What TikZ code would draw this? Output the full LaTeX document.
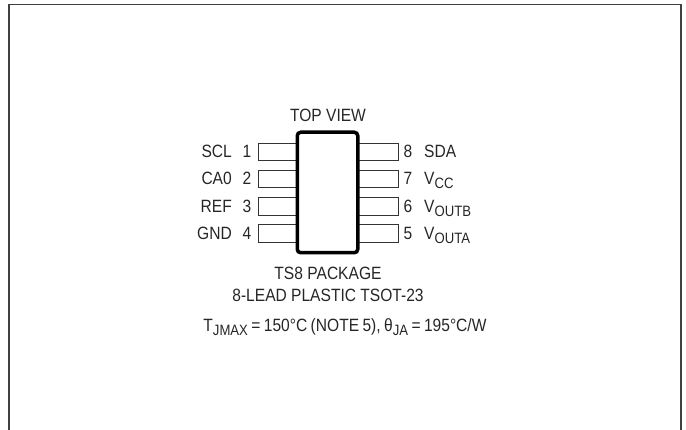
\documentclass[tikz,border=0pt]{standalone}
\usepackage{fontspec}
\setmainfont[FakeStretch=0.875]{Liberation Sans}
\newcommand{\lowsub}[1]{\raisebox{-3.6pt}{\fontsize{15}{18}\selectfont #1}}
\begin{document}
\begin{tikzpicture}[x=1pt,y=-1pt,
  lbl/.style={inner sep=0pt,font=\fontsize{17.8}{21}\selectfont,text=black!85},
  pinbox/.style={draw=black!80,line width=1pt,inner sep=0pt,minimum width=40pt,minimum height=17.5pt,fill=white},
  chip/.style={draw=black,line width=3.5pt,rounded corners=3.5pt,inner sep=0pt,minimum width=60.5pt,minimum height=120.5pt,fill=white},
  frame/.style={draw=black!75,line width=1.2pt}]
\useasboundingbox (0,0) rectangle (686,430);
\coordinate (fa) at (9,430);
\coordinate (fb) at (9,4.5);
\coordinate (fc) at (681,4.5);
\coordinate (fd) at (681,430);
\draw[frame] (fa) -- (fb) -- (fc) -- (fd);
\node[pinbox] (p1) at (278,152) {};
\node[pinbox] (p2) at (278,179) {};
\node[pinbox] (p3) at (278,206.3) {};
\node[pinbox] (p4) at (278,233.5) {};
\node[pinbox] (p8) at (378,152) {};
\node[pinbox] (p7) at (378,179) {};
\node[pinbox] (p6) at (378,206.3) {};
\node[pinbox] (p5) at (378,233.5) {};
\node[chip] (body) at (327.5,192.5) {};
\node[lbl,anchor=base] (top) at (328,122) {TOP VIEW};
\node[lbl,anchor=base east] (n1) at (251.5,158) {1};
\node[lbl,anchor=base east] (n2) at (251.5,185) {2};
\node[lbl,anchor=base east] (n3) at (251.5,212.5) {3};
\node[lbl,anchor=base east] (n4) at (251.5,240) {4};
\node[lbl,anchor=base east] (s1) at (232,158) {SCL};
\node[lbl,anchor=base east] (s2) at (232,185) {CA0};
\node[lbl,anchor=base east] (s3) at (232,212.5) {REF};
\node[lbl,anchor=base east] (s4) at (232,240) {GND};
\node[lbl,anchor=base west] (n8) at (403.5,158) {8};
\node[lbl,anchor=base west] (n7) at (403.5,185) {7};
\node[lbl,anchor=base west] (n6) at (403.5,212.5) {6};
\node[lbl,anchor=base west] (n5) at (403.5,240) {5};
\node[lbl,anchor=base west] (s8) at (424,158) {SDA};
\node[lbl,anchor=base west] (s7) at (424,185) {V\lowsub{CC}};
\node[lbl,anchor=base west] (s6) at (424,212.5) {V\lowsub{OUTB}};
\node[lbl,anchor=base west] (s5) at (424,240) {V\lowsub{OUTA}};
\node[lbl,anchor=base] (t1) at (328,280) {TS8 PACKAGE};
\node[lbl,anchor=base] (t2) at (328,302) {8-LEAD PLASTIC TSOT-23};
\node[lbl,anchor=base] (t3) at (345,332) {\spaceskip=3.4pt T\lowsub{JMAX} = 150°C (NOTE 5), θ\lowsub{JA} = 195°C/W};
\end{tikzpicture}
\end{document}
